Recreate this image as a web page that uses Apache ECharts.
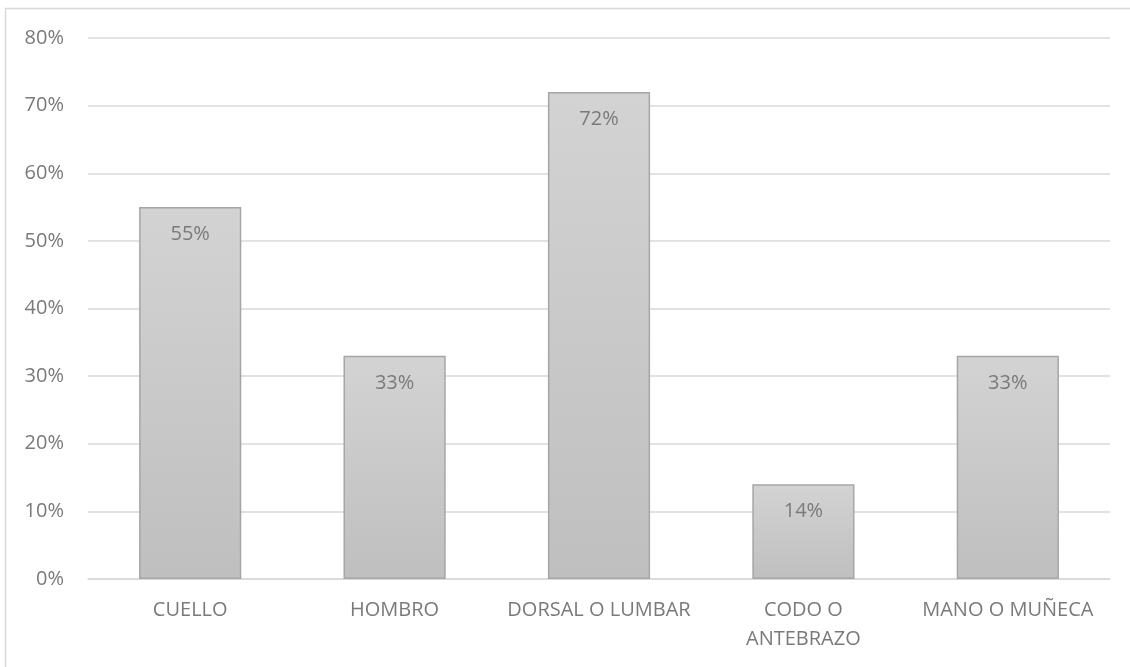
<!DOCTYPE html>
<html>
<head>
<meta charset="utf-8">
<script src="https://cdn.jsdelivr.net/npm/echarts@6/dist/echarts.min.js"></script>
<style>
  html, body { margin: 0; padding: 0; background: #ffffff; }
  #chart { width: 1130px; height: 667px; }
</style>
</head>
<body>
<div id="chart"></div>
<script>
// Body regions and the share of respondents reporting discomfort in each
const categories = ['CUELLO', 'HOMBRO', 'DORSAL O LUMBAR', 'CODO O\nANTEBRAZO', 'MANO O MUÑECA'];
const percentages = [55, 33, 72, 14, 33];
const yTicks = { min: 0, max: 80, interval: 10 };

const FONT = '"Open Sans", "Noto Sans", sans-serif';
const TEXT = '#7a7a7a';

const chart = echarts.init(document.getElementById('chart'), null, { renderer: 'canvas' });

chart.setOption({
  backgroundColor: '#ffffff',
  animation: false,
  graphic: [{
    type: 'rect',
    shape: { x: 5.5, y: 8.5, width: 1200, height: 800 },
    style: { fill: 'none', stroke: '#d9d9d9', lineWidth: 1.5 },
    silent: true,
    z: -1
  }],
  grid: { left: 88, right: 20, top: 38, bottom: 88, containLabel: false },
  xAxis: {
    type: 'category',
    data: categories,
    axisLine: { show: true, lineStyle: { color: '#d9d9d9', width: 1.5 } },
    axisTick: { show: false },
    axisLabel: {
      color: TEXT,
      fontFamily: FONT,
      fontSize: 20,
      lineHeight: 29,
      margin: 17,
      interval: 0
    }
  },
  yAxis: {
    type: 'value',
    min: yTicks.min,
    max: yTicks.max,
    interval: yTicks.interval,
    axisLine: { show: false },
    axisTick: { show: false },
    splitLine: { lineStyle: { color: '#d9d9d9', width: 1.5 } },
    axisLabel: {
      color: TEXT,
      fontFamily: FONT,
      fontSize: 20,
      margin: 24,
      formatter: v => v + '%'
    }
  },
  series: [{
    type: 'bar',
    data: percentages,
    barWidth: '50%',
    itemStyle: {
      color: new echarts.graphic.LinearGradient(0, 0, 0, 1, [
        { offset: 0, color: '#d3d3d3' },
        { offset: 1, color: '#bfbfbf' }
      ]),
      borderColor: '#a6a6a6',
      borderWidth: 1.5
    },
    label: {
      show: true,
      position: 'insideTop',
      distance: 17,
      color: TEXT,
      fontFamily: FONT,
      fontSize: 20,
      formatter: p => p.value + '%'
    }
  }]
});
</script>
</body>
</html>
